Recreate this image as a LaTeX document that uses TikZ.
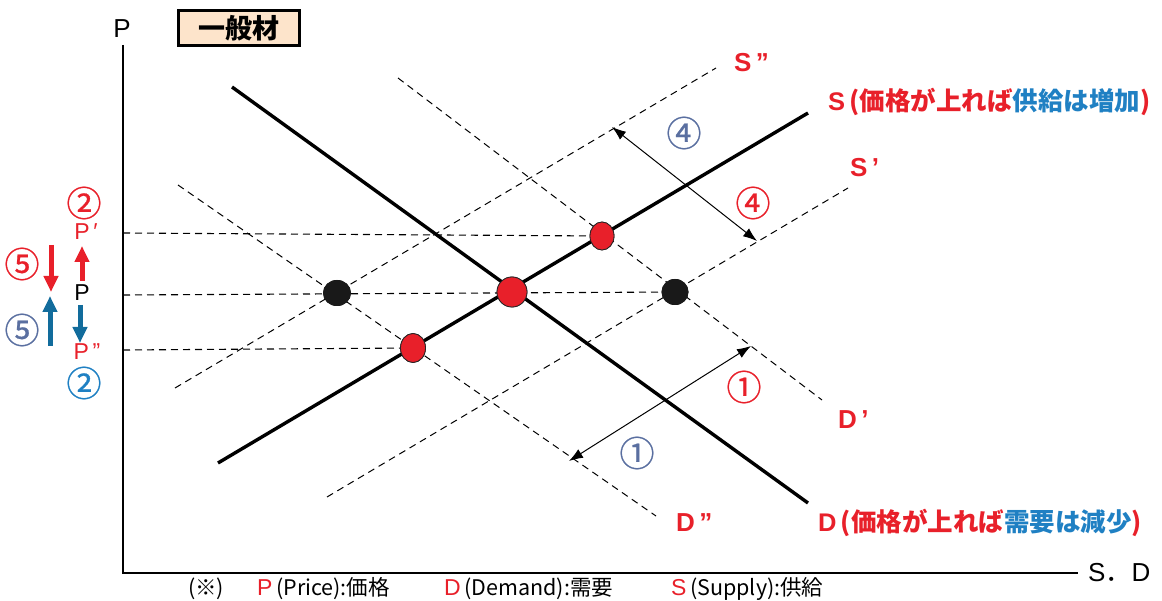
\documentclass[tikz,border=0pt]{standalone}
\usepackage{fontspec}
\setmainfont{Noto Sans CJK JP}
\newfontfamily\latn{Liberation Sans}
\newfontfamily\circfont{Noto Sans CJK JP}[FakeBold=0.7]
\usetikzlibrary{arrows.meta,shapes.geometric}
\definecolor{cred}{HTML}{E8202A}
\definecolor{cblue}{HTML}{1F80C3}
\definecolor{darr}{HTML}{126C9C}
\definecolor{cgray}{HTML}{5A6FA0}
\definecolor{boxfill}{HTML}{FDE4CB}
\tikzset{
  curve/.style={line width=3.4pt, black},
  shifted/.style={line width=1pt, dash pattern=on 7pt off 5pt},
  guide/.style={line width=1.1pt, dash pattern=on 7pt off 5pt},
  shiftarrow/.style={line width=1pt, {Latex[length=14pt,width=10pt]}-{Latex[length=14pt,width=10pt]}},
  reddot/.style={ellipse, draw=black!85, line width=0.8pt, fill=cred, inner sep=0pt},
  blackdot/.style={ellipse, fill=black!90, inner sep=0pt},
  lbl/.style={inner sep=0pt, font=\bfseries\fontsize{25.5}{27}\selectfont},
  let/.style={inner sep=0pt, font=\latn\bfseries\fontsize{26}{28}\selectfont},
  num/.style={inner sep=0pt, font=\circfont\fontsize{35}{36}\selectfont},
  leg/.style={inner sep=0pt, anchor=west, font=\fontsize{21.5}{23}\selectfont},
  movearrow/.style={line width=5pt, -{Triangle[length=16pt,width=14pt]}},
}
\begin{document}
\begin{tikzpicture}[x=1pt,y=-1pt]
\useasboundingbox (0,0) rectangle (1162,601);

% axes
\coordinate (o) at (123,573);
\coordinate (ytop) at (123,45);
\coordinate (xend) at (1078,573);
\draw[line width=2.4pt] (ytop) -- (o) -- (xend);
\node[let, font=\latn\fontsize{26}{28}\selectfont] (plab) at (122,29) {P};
\node[let, font=\fontsize{26}{28}\selectfont, anchor=west] (sdlab) at (1088,573)
  {{\latn S}．{\latn D}};

% title box
\node[draw, line width=2.2pt, fill=boxfill, minimum width=121pt, minimum height=35pt,
      font=\bfseries\fontsize{27}{29}\selectfont] (title) at (239,28) {一般材};

% equilibrium points (placed first so the lines can refer to them)
\node[reddot, minimum width=30pt, minimum height=30pt] (e0) at (512,292) {};
\node[reddot, minimum width=24pt, minimum height=28pt] (e1) at (602,236) {};
\node[reddot, minimum width=25pt, minimum height=29pt] (e2) at (413,348) {};
\node[blackdot, minimum width=28pt, minimum height=26pt] (b1) at (337,293) {};
\node[blackdot, minimum width=27pt, minimum height=26pt] (b2) at (675,292) {};

% shifted supply and demand (dashed)
\coordinate (s2a) at (175,388); \coordinate (s2b) at (716,68);
\coordinate (s1a) at (327,497); \coordinate (s1b) at (848,188);
\coordinate (d1a) at (398,78);  \coordinate (d1b) at (822,400);
\coordinate (d2a) at (178,185); \coordinate (d2b) at (656,516);
\draw[shifted] (s2a) -- (s2b);
\draw[shifted] (s1a) -- (s1b);
\draw[shifted] (d1a) -- (d1b);
\draw[shifted] (d2a) -- (d2b);

% price guides
\coordinate (pp) at (123,233);
\coordinate (p0) at (123,295);
\coordinate (pq) at (123,350);
\draw[guide] (pp) -- (e1.center);
\draw[guide] (p0) -- (b2.center);
\draw[guide] (pq) -- (e2.center);

% original supply and demand
\coordinate (sa) at (218,463); \coordinate (sb) at (808,113);
\coordinate (da) at (232,87);  \coordinate (db) at (808,503);
\draw[curve] (sa) -- (sb);
\draw[curve] (da) -- (db);

% points drawn again on top of the lines
\node[reddot, minimum width=30pt, minimum height=30pt] at (e0) {};
\node[reddot, minimum width=24pt, minimum height=28pt] at (e1) {};
\node[reddot, minimum width=25pt, minimum height=29pt] at (e2) {};
\node[blackdot, minimum width=28pt, minimum height=26pt] at (b1) {};
\node[blackdot, minimum width=27pt, minimum height=26pt] at (b2) {};

% shift arrows
\coordinate (a4a) at (612,127); \coordinate (a4b) at (757,241);
\coordinate (a1a) at (569,461); \coordinate (a1b) at (751,346);
\draw[shiftarrow] (a4a) -- (a4b);
\draw[shiftarrow] (a1a) -- (a1b);
\node[num, text=cgray] (n4a) at (684,133) {④};
\node[num, text=cred] (n4b) at (753,203) {④};
\node[num, text=cred] (n1a) at (744,387) {①};
\node[num, text=cgray] (n1b) at (637,453) {①};

% curve labels
\node[let, text=cred, anchor=west] (lS2) at (734,63) {S\,”};
\node[lbl, text=cred, anchor=west] (lS) at (828,102)
  {{\latn S}\,(価格が上れば\textcolor{cblue}{供給は増加})};
\node[let, text=cred, anchor=west] (lS1) at (850,168) {S\,’};
\node[let, text=cred, anchor=west] (lD1) at (838,420) {D\,’};
\node[let, text=cred, anchor=west] (lD2) at (676,523) {D\,”};
\node[lbl, text=cred, anchor=west] (lD) at (818,523)
  {{\latn D}\,(価格が上れば\textcolor{cblue}{需要は減少})};

% price movement on the left
\node[num, text=cred] (c2r) at (84,203) {②};
\node[let, text=cred, font=\latn\fontsize{23}{25}\selectfont] (pp_l) at (86,232) {P\,′};
\node[let, font=\latn\fontsize{23}{25}\selectfont] (p_l) at (82,293) {P};
\node[let, text=cred, font=\latn\fontsize{23}{25}\selectfont] (pq_l) at (87,352) {P\,”};
\node[num, text=cblue] (c2b) at (84,383) {②};
\coordinate (upa) at (82,281); \coordinate (upb) at (82,246);
\coordinate (dna) at (80,305); \coordinate (dnb) at (80,343);
\draw[movearrow, cred] (upa) -- (upb);
\draw[movearrow, darr] (dna) -- (dnb);
\node[num, text=cred] (c5r) at (22,264) {⑤};
\node[num, text=cgray] (c5b) at (22,330) {⑤};
\coordinate (r5a) at (51,245); \coordinate (r5b) at (51,292);
\coordinate (b5a) at (50,346); \coordinate (b5b) at (50,296);
\draw[movearrow, cred] (r5a) -- (r5b);
\draw[movearrow, darr] (b5a) -- (b5b);

% legend
\node[leg] (leg0) at (188,589) {(※)};
\node[leg] (legP) at (257,589) {\textcolor{cred}{\latn\fontsize{23}{25}\selectfont P}\,(Price):価格};
\node[leg] (legD) at (444,589) {\textcolor{cred}{\latn\fontsize{23}{25}\selectfont D}\,(Demand):需要};
\node[leg] (legS) at (671,589) {\textcolor{cred}{\latn\fontsize{23}{25}\selectfont S}\,(Supply):供給};
\end{tikzpicture}
\end{document}
